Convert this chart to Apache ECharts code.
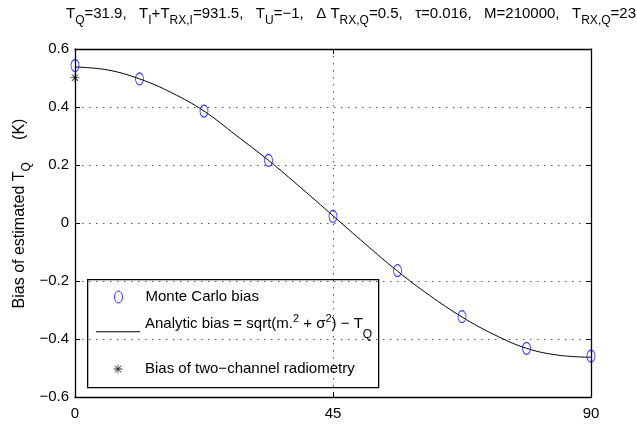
<!DOCTYPE html>
<html><head><meta charset="utf-8">
<script src="https://cdn.jsdelivr.net/npm/echarts@6/dist/echarts.min.js"></script>
<style>html,body{margin:0;padding:0;background:#fff}#c{width:637px;height:429px}</style>
</head><body><div id="c"></div>
<script>
// ---- data ----
const angles = [0, 11.25, 22.5, 33.75, 45, 56.25, 67.5, 78.75, 90];
const monteCarloBias = [0.543, 0.497, 0.386, 0.216, 0.023, -0.164, -0.323, -0.432, -0.459];
const curveAngles = [0, 5.625, 11.25, 16.875, 22.5, 28.125, 33.75, 39.375, 45, 50.625, 56.25, 61.875, 67.5, 73.125, 78.75, 84.375, 90];
const analyticBias = [0.538, 0.528, 0.497, 0.449, 0.386, 0.302, 0.216, 0.122, 0.025, -0.072, -0.166, -0.250, -0.324, -0.385, -0.432, -0.456, -0.463];
const twoChannelAngle = [0];
const twoChannelBias = [0.501];
const xTicks = [0, 45, 90];
const yTicks = [-0.6, -0.4, -0.2, 0, 0.2, 0.4, 0.6];
const titleText = 'T{sub|Q}=31.9,   T{sub|I}+T{sub|RX,I}=931.5,   T{sub|U}=\u22121,   \u0394 T{sub|RX,Q}=0.5,   \u03c4=0.016,   M=210000,   T{sub|RX,Q}=23';
const yName = 'Bias of estimated T{sub|Q}     (K)';
const nameMC = 'Monte Carlo bias';
const nameAn = 'Analytic bias';
const nameTwo = 'Bias of two\u2212channel radiometry';
const labelAn = 'Analytic bias = sqrt(m.{sup|2} + \u03c3{sup|2}) \u2212 T{sub|Q}';

const FONT = '"Liberation Sans", Arial, Helvetica, sans-serif';
const ellipse = 'path://M4,0 A4,6 0 1 1 4,12 A4,6 0 1 1 4,0 Z';
const asterisk = 'path://M4.55,0 L5.45,0 L5.45,10 L4.55,10 Z M0,4.55 L10,4.55 L10,5.45 L0,5.45 Z M1.15,1.8 L1.8,1.15 L8.85,8.2 L8.2,8.85 Z M8.2,1.15 L8.85,1.8 L1.8,8.85 L1.15,8.2 Z';

const pairs = (xs, ys) => xs.map((x, i) => [x, ys[i]]);
const axisLineStyle = { color: '#000', width: 1.3 };
const dotted = { show: true, lineStyle: { color: '#555', width: 1, type: [1.5, 5.5] } };

const chart = echarts.init(document.getElementById('c'), null, { renderer: 'canvas' });
chart.setOption({
  animation: false,
  backgroundColor: '#fff',
  textStyle: { fontFamily: FONT },
  title: {
    left: 66, top: 1, padding: 0,
    text: titleText,
    textStyle: {
      fontFamily: FONT, fontSize: 15, fontWeight: 'normal', color: '#000', lineHeight: 26,
      rich: { sub: { fontFamily: FONT, fontSize: 12, color: '#000', lineHeight: 14, verticalAlign: 'bottom' } }
    }
  },
  grid: { left: 75, right: 46, top: 49, bottom: 32, outerBoundsMode: 'none' },
  xAxis: [{
    type: 'value', min: xTicks[0], max: xTicks[xTicks.length - 1], interval: xTicks[1] - xTicks[0], position: 'bottom',
    axisLine: { show: true, onZero: false, lineStyle: axisLineStyle },
    axisTick: { show: true, inside: true, length: 5, lineStyle: { color: '#000' } },
    axisLabel: { color: '#000', fontSize: 15, fontFamily: FONT, margin: 9 },
    splitLine: dotted
  }, {
    type: 'value', min: xTicks[0], max: xTicks[xTicks.length - 1], interval: xTicks[1] - xTicks[0], position: 'top',
    axisLine: { show: true, onZero: false, lineStyle: axisLineStyle },
    axisTick: { show: true, inside: true, length: 5, lineStyle: { color: '#000' } },
    axisLabel: { show: false }, splitLine: { show: false }
  }],
  yAxis: [{
    type: 'value', min: yTicks[0], max: yTicks[yTicks.length - 1], interval: 0.2, position: 'left',
    axisLine: { show: true, onZero: false, lineStyle: axisLineStyle },
    axisTick: { show: true, inside: true, length: 5, lineStyle: { color: '#000' } },
    axisLabel: { color: '#000', fontSize: 15, fontFamily: FONT, margin: 6,
      formatter: v => { const r = Math.round(v * 10) / 10; return r < 0 ? '\u2212' + String(-r) : String(r); } },
    splitLine: dotted,
    name: yName, nameLocation: 'middle', nameRotate: 90, nameGap: 42, nameMoveOverlap: false,
    nameTextStyle: { color: '#000', fontSize: 16, fontFamily: FONT, lineHeight: 26, padding: [0, 0, 0, 19],
      rich: { sub: { fontFamily: FONT, fontSize: 12, color: '#000', lineHeight: 14, verticalAlign: 'bottom' } } }
  }, {
    type: 'value', min: yTicks[0], max: yTicks[yTicks.length - 1], interval: 0.2, position: 'right',
    axisLine: { show: true, onZero: false, lineStyle: axisLineStyle },
    axisTick: { show: true, inside: true, length: 5, lineStyle: { color: '#000' } },
    axisLabel: { show: false }, splitLine: { show: false }
  }],
  legend: [{
    left: 114, top: 288, padding: 0, selectedMode: false, itemWidth: 8, itemHeight: 12,
    data: [{ name: nameMC, icon: ellipse }],
    itemStyle: { color: 'rgba(0,0,0,0)', borderColor: '#0000ff', borderWidth: 1 },
    textStyle: { color: '#000', fontSize: 15, fontFamily: FONT, lineHeight: 18, padding: [0, 0, 0, 18] }
  }, {
    left: 96, top: 306.7, padding: 0, selectedMode: false, itemWidth: 44, itemHeight: 1,
    data: [{ name: nameAn, icon: 'rect' }],
    itemStyle: { color: '#000', borderWidth: 0 },
    formatter: () => labelAn,
    textStyle: { color: '#000', fontSize: 15, fontFamily: FONT, lineHeight: 34, padding: [0, 0, 16, 0],
      rich: {
        sup: { fontFamily: FONT, fontSize: 11, color: '#000', lineHeight: 14, verticalAlign: 'middle', padding: [0, 0, 10, 0] },
        sub: { fontFamily: FONT, fontSize: 12, color: '#000', lineHeight: 12, verticalAlign: 'bottom' }
      } }
  }, {
    left: 113.5, top: 360, padding: 0, selectedMode: false, itemWidth: 9, itemHeight: 9,
    data: [{ name: nameTwo, icon: asterisk }],
    itemStyle: { color: '#000', borderWidth: 0 },
    textStyle: { color: '#000', fontSize: 15, fontFamily: FONT, lineHeight: 18, padding: [0, 0, 0, 17.5] }
  }],
  graphic: [{
    type: 'rect', left: 87, top: 279, silent: true,
    shape: { width: 291, height: 108 },
    style: { fill: 'rgba(0,0,0,0)', stroke: '#000', lineWidth: 1.3 },
    z: 10
  }],
  series: [{
    name: nameAn, type: 'line', xAxisIndex: 0, yAxisIndex: 0,
    data: pairs(curveAngles, analyticBias), smooth: 0.4, showSymbol: false, symbol: 'none',
    lineStyle: { color: '#000', width: 1 }, itemStyle: { color: '#000' },
    emphasis: { disabled: true }, silent: true, z: 2
  }, {
    name: nameMC, type: 'scatter', xAxisIndex: 0, yAxisIndex: 0,
    data: pairs(angles, monteCarloBias), symbol: ellipse, symbolSize: [8, 12],
    itemStyle: { color: 'rgba(0,0,0,0)', borderColor: '#0000ff', borderWidth: 1 },
    emphasis: { disabled: true }, silent: true, z: 3, clip: false
  }, {
    name: nameTwo, type: 'scatter', xAxisIndex: 0, yAxisIndex: 0,
    data: pairs(twoChannelAngle, twoChannelBias), symbol: asterisk, symbolSize: 9,
    itemStyle: { color: '#000' },
    emphasis: { disabled: true }, silent: true, z: 4, clip: false
  }]
});
</script>
</body></html>
